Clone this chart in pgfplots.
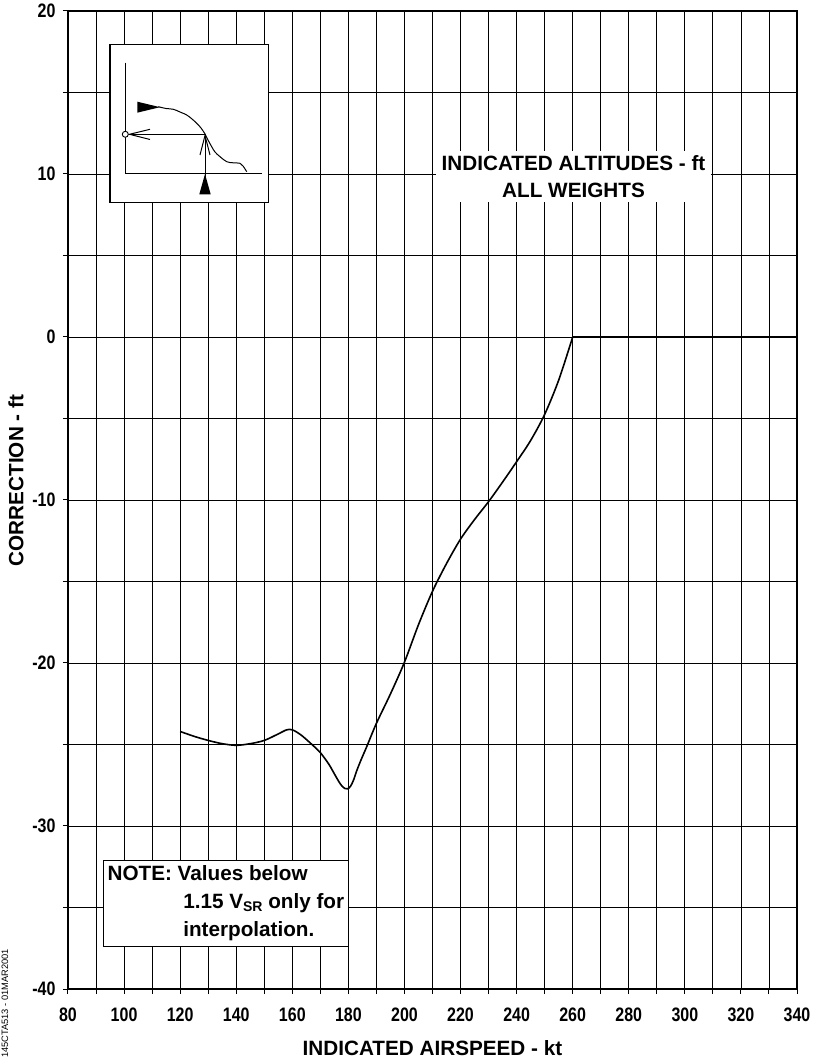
\documentclass[border=0pt]{standalone}
\usepackage{pgfplots}
\pgfplotsset{compat=1.18}
\usepackage{pgfplotstable}
\usepackage{graphicx}
\usepackage{fontspec}
\setmainfont{Liberation Sans}

\pgfplotstableread{
x y
120 -24.2
125 -24.5
130 -24.75
135 -24.95
140 -25.05
145 -24.95
150 -24.75
155 -24.35
158 -24.1
160 -24.1
163 -24.4
167 -25.0
170 -25.5
173 -26.2
175 -26.8
176.5 -27.25
177.7 -27.55
178.8 -27.7
179.8 -27.72
180.8 -27.55
181.8 -27.2
183 -26.6
184.5 -25.95
186.5 -25.15
190 -23.7
195 -21.9
200 -19.95
205 -17.65
210 -15.6
215 -13.9
220 -12.4
225 -11.2
230 -10.1
235 -8.9
240 -7.65
245 -6.35
250 -4.75
255 -2.65
260 0
}\curvedata

\pgfplotstableread{
x y
260 0
340 0
}\flatdata

\newcommand{\nar}[1]{\scalebox{0.82}[1]{#1}}

\begin{document}
\begin{tikzpicture}
\path[use as bounding box] (-68pt,-71pt) rectangle (747pt,989pt);
\begin{axis}[
  at={(0pt,0pt)}, anchor=south west,
  scale only axis, width=729pt, height=978pt,
  xmin=80, xmax=340, ymin=-40, ymax=20,
  xtick={80,100,...,340}, ytick={-40,-30,...,20},
  xticklabels={\nar{80},\nar{100},\nar{120},\nar{140},\nar{160},\nar{180},\nar{200},\nar{220},\nar{240},\nar{260},\nar{280},\nar{300},\nar{320},\nar{340}},
  yticklabels={\nar{-40},\nar{-30},\nar{-20},\nar{-10},\nar{0},\nar{10},\nar{20}},
  minor xtick={90,110,...,330}, minor ytick={-35,-25,...,15},
  grid=both,
  major grid style={black, line width=0.8pt},
  minor grid style={black, line width=0.8pt},
  axis line style={black, line width=2.2pt},
  tick align=outside, major tick length=5pt, minor tick length=5pt,
  tick style={black, line width=1pt},
  xtick pos=bottom, ytick pos=left,
  ticklabel style={font=\bfseries\fontsize{19.5}{19.5}\selectfont},
  xticklabel style={yshift=-10pt},
  yticklabel style={xshift=-4pt},
  label style={font=\bfseries\fontsize{20.7}{24}\selectfont},
  xlabel={INDICATED AIRSPEED - kt},
  ylabel={CORRECTION - ft},
  xlabel style={at={(axis description cs:0.5,-0.0603)}, anchor=center},
  ylabel style={at={(axis description cs:-0.0713,0.52)}, anchor=center},
]
\addplot[black, line width=1.6pt, smooth] table[x=x,y=y] {\curvedata};
\addplot[black, line width=1.6pt] table[x=x,y=y] {\flatdata};

\node[fill=white, inner xsep=6pt, inner ysep=4pt, align=center,
      font=\bfseries\fontsize{20.7}{27}\selectfont]
  at (axis cs:260.3,9.85) {INDICATED ALTITUDES - ft\\ALL WEIGHTS};

\node[draw=black, line width=1pt, fill=white, anchor=north west,
      inner xsep=4.3pt, inner ysep=5pt, align=left,
      font=\bfseries\fontsize{20.7}{28}\selectfont]
  at (axis cs:92.4,-32.1)
  {NOTE: Values below\\
   \hspace*{75.7pt}1.15 V\raisebox{-3pt}{\fontsize{14}{14}\selectfont SR} only for\\
   \hspace*{75.7pt}interpolation.};
\end{axis}

% inset schematic (pixel-like units)
\begin{scope}[shift={(-68pt,989pt)}, x=1pt, y=-1pt]
  \draw[black, line width=1.5pt, fill=white] (110,44.3) rectangle (268.3,202.3);
  \draw[black, line width=1pt] (125,62.7) -- (125,173.3) -- (261.7,173.3);
  \draw[black, line width=1pt] plot[smooth, tension=0.6] coordinates {
    (158.3,106.7) (166,108.5) (173.3,109.3) (180,112) (186.7,115) (192,119)
    (196.7,123.3) (201,128) (205,134) (208,140) (211.7,146.7) (215,152)
    (220,156.7) (226.7,161.7) (233,162.8) (240,163.3) (243,166) (246.7,171.7)};
  \fill[black] (137.3,101.7) -- (137.3,112.7) -- (160,107.2) -- cycle;
  \draw[black, line width=1pt] (205,134.3) -- (128.5,134.3);
  \draw[black, line width=1pt] (150,129.3) -- (129.5,134.3) -- (150,139.5);
  \draw[black, line width=1pt] (205,194) -- (205,134.5);
  \draw[black, line width=1pt] (200,155) -- (205,135.5) -- (210,155);
  \draw[black, line width=0.9pt, fill=white] (125.3,134.3) circle (3);
  \fill[black] (199.3,194.3) -- (210.7,194.3) -- (205,174) -- cycle;
\end{scope}

\node[rotate=90, anchor=west, inner sep=0pt, font=\fontsize{9.3}{10}\selectfont]
  at (-63pt,-69pt) {145CTA513 - 01MAR2001};
\end{tikzpicture}
\end{document}
